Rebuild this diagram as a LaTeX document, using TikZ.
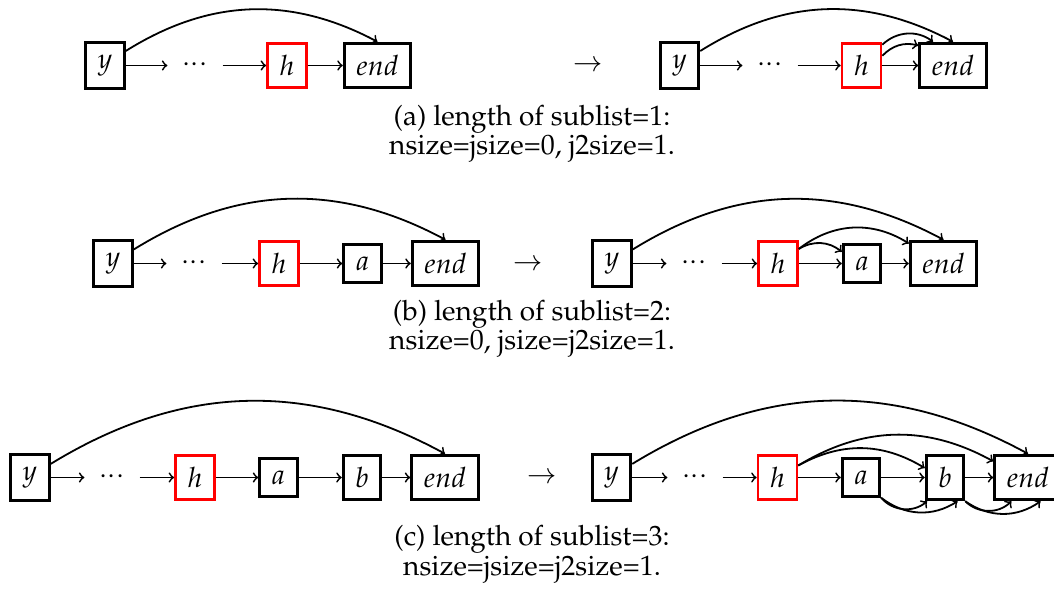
\documentclass[tikz,border=0pt]{standalone}
\usepackage[T1]{fontenc}
\usepackage{mathpazo}
\newcommand{\gapdots}{$\cdotp\!\cdotp\!\cdotp$}
\begin{document}
\begin{tikzpicture}[x=0.5pt,y=-0.5pt,
    every node/.style={font=\fontsize{14}{11.75}\selectfont},
    cell/.style={draw, line width=1.4pt, inner sep=6pt},
    cur/.style={cell, draw=red},
    skip/.style={inner sep=7pt},
    link/.style={->, line width=0.9pt},
    note/.style={align=center, anchor=base}]
    \useasboundingbox (0,0) rectangle (1054,608);

    % sublist of length 1
    \node[cell] (ya) at (105,65.5) {$y$};
    \node[skip] (da) at (195,65.5) {\gapdots};
    \node[cur] (ha) at (287,65.5) {$h$};
    \node[cell] (ea) at (377.5,65.5) {$end$};
    \draw[link] (ya) -- (da);
    \draw[link] (da) -- (ha);
    \draw[link] (ha) -- (ea);
    \draw[link] (ya) to[bend left=30] (ea.north);

    \node (ta) at (588,66) {$\rightarrow$};

    \node[cell] (ya2) at (679.5,65.5) {$y$};
    \node[skip] (da2) at (770,65.5) {\gapdots};
    \node[cur] (ha2) at (861.5,65.5) {$h$};
    \node[cell] (ea2) at (953,65.5) {$end$};
    \draw[link] (ya2) -- (da2);
    \draw[link] (da2) -- (ha2);
    \draw[link] (ha2) -- (ea2);
    \draw[link] (ya2) to[bend left=30] (ea2.north);
    \draw[link] (ha2.45) to[bend left=40] (ea2.130);
    \draw[link] (ha2.25) to[bend left=30] (ea2.150);

    \node[note] (ca) at (532,155) {(a) length of sublist=1:\\nsize=jsize=0, j2size=1.};

    % sublist of length 2
    \node[cell] (yb) at (113,263.5) {$y$};
    \node[skip] (db) at (194,263.5) {\gapdots};
    \node[cur] (hb) at (279,263.5) {$h$};
    \node[cell] (ab) at (362.5,263.5) {$a$};
    \node[cell] (eb) at (445.5,263.5) {$end$};
    \draw[link] (yb) -- (db);
    \draw[link] (db) -- (hb);
    \draw[link] (hb) -- (ab);
    \draw[link] (ab) -- (eb);
    \draw[link] (yb) to[bend left=30] (eb.north);

    \node (tb) at (528,265) {$\rightarrow$};

    \node[cell] (yb2) at (612,263.5) {$y$};
    \node[skip] (db2) at (694,263.5) {\gapdots};
    \node[cur] (hb2) at (778,263.5) {$h$};
    \node[cell] (ab2) at (862,263.5) {$a$};
    \node[cell] (eb2) at (943.5,263.5) {$end$};
    \draw[link] (yb2) -- (db2);
    \draw[link] (db2) -- (hb2);
    \draw[link] (hb2) -- (ab2);
    \draw[link] (ab2) -- (eb2);
    \draw[link] (yb2) to[bend left=30] (eb2.north);
    \draw[link] (hb2.35) to[bend left=35] (ab2.150);
    \draw[link] (hb2.35) to[bend left=35] (eb2.150);

    \node[note] (cb) at (532,350) {(b) length of sublist=2:\\nsize=0, jsize=j2size=1.};

    % sublist of length 3
    \node[cell] (yc) at (30,477.5) {$y$};
    \node[skip] (dc) at (112,477.5) {\gapdots};
    \node[cur] (hc) at (195,477.5) {$h$};
    \node[cell] (ac) at (278.5,477.5) {$a$};
    \node[cell] (bc) at (362,477.5) {$b$};
    \node[cell] (ec) at (445,477.5) {$end$};
    \draw[link] (yc) -- (dc);
    \draw[link] (dc) -- (hc);
    \draw[link] (hc) -- (ac);
    \draw[link] (ac) -- (bc);
    \draw[link] (bc) -- (ec);
    \draw[link] (yc) to[bend left=30] (ec.north);

    \node (tc) at (542,478) {$\rightarrow$};

    \node[cell] (yc2) at (611.5,477.5) {$y$};
    \node[skip] (dc2) at (695,477.5) {\gapdots};
    \node[cur] (hc2) at (777.5,477.5) {$h$};
    \node[cell] (ac2) at (861,477.5) {$a$};
    \node[cell] (bc2) at (945,477.5) {$b$};
    \node[cell] (ec2) at (1028,477.5) {$end$};
    \draw[link] (yc2) -- (dc2);
    \draw[link] (dc2) -- (hc2);
    \draw[link] (hc2) -- (ac2);
    \draw[link] (ac2) -- (bc2);
    \draw[link] (bc2) -- (ec2);
    \draw[link] (yc2) to[bend left=30] (ec2.north);
    \draw[link] (hc2.30) to[bend left=30] (bc2.155);
    \draw[link] (hc2.30) to[bend left=30] (ec2.155);
    \draw[link] (ac2.south east) to[bend right=45] (bc2.233);
    \draw[link] (ac2.south east) to[bend right=35] (bc2.298);
    \draw[link] (bc2.south east) to[bend right=45] (ec2.235);
    \draw[link] (bc2.south east) to[bend right=35] (ec2.298);

    \node[note] (cc) at (532,575) {(c) length of sublist=3:\\nsize=jsize=j2size=1.};
\end{tikzpicture}
\end{document}
